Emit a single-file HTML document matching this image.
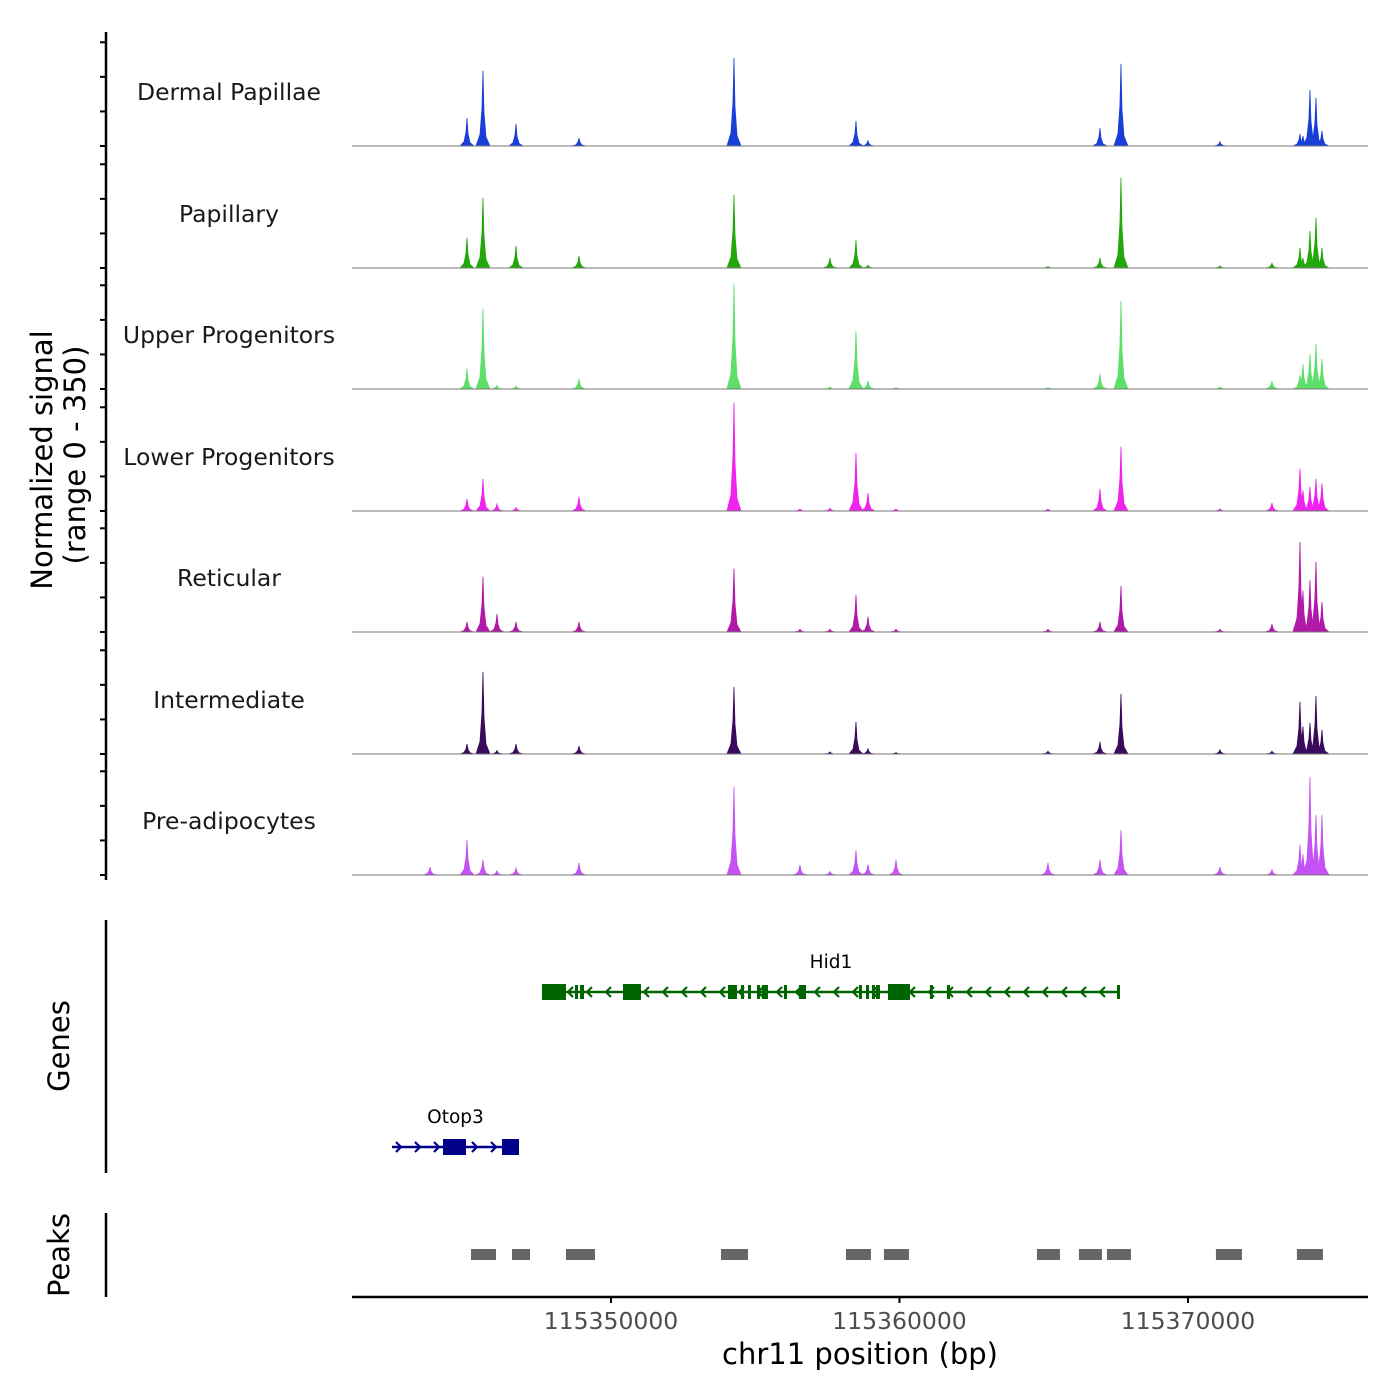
<!DOCTYPE html>
<html><head><meta charset="utf-8"><style>
html,body{margin:0;padding:0;background:#fff;}
svg{display:block;font-family:"DejaVu Sans","Liberation Sans",sans-serif;}
</style></head><body>
<svg id="chart" width="1400" height="1400" viewBox="0 0 1400 1400" xmlns="http://www.w3.org/2000/svg">
<rect width="1400" height="1400" fill="#fff"/>
<g id="tracks"></g>
<g id="genes"></g>
<g id="peaks"></g>
<g id="axes"></g>
<text transform="translate(52,460) rotate(-90)" text-anchor="middle" font-size="29" fill="#000">Normalized signal</text>
<text transform="translate(85,455) rotate(-90)" text-anchor="middle" font-size="29" fill="#000">(range 0 - 350)</text>
<text transform="translate(69,1046) rotate(-90)" text-anchor="middle" font-size="29" fill="#000">Genes</text>
<text transform="translate(69,1255) rotate(-90)" text-anchor="middle" font-size="29" fill="#000">Peaks</text>
<text x="860" y="1364" text-anchor="middle" font-size="29" fill="#000">chr11 position (bp)</text>
</svg>
<script>
// ---- data ----
const trackNames = ["Dermal Papillae","Papillary","Upper Progenitors","Lower Progenitors","Reticular","Intermediate","Pre-adipocytes"];
const trackColors = ["#1a3fd8","#22a80a","#5ddf6a","#ef22ee","#b11aa8","#3a0a5c","#c552f5"];
const peakPositions = [115343727,115345009,115345563,115346048,115346707,115348891,115354263,115356551,115357591,115358492,115358908,115359879,115365147,115366949,115367677,115371108,115372911,115373881,115373985,115374228,115374436,115374644];
const signalDermal   = [0,81,218,0,64,23,255,0,0,72,15,0,0,52,238,12,0,35,29,162,139,44];
const signalPapillary= [0,87,203,0,64,35,212,0,29,81,8,0,4,29,261,6,14,58,29,107,145,58];
const signalUpper    = [0,58,232,10,8,29,305,0,6,168,23,4,4,44,255,6,23,40,72,101,130,87];
const signalLower    = [0,35,93,20,10,41,313,6,8,168,52,6,6,64,186,6,23,122,60,70,93,80];
const signalReticular= [0,29,160,52,29,29,183,8,8,107,44,8,8,29,133,8,23,261,120,150,203,87];
const signalInter    = [0,29,238,10,29,23,194,0,6,93,15,4,8,35,174,12,8,151,80,90,168,70];
const signalPreadip  = [23,101,44,12,20,35,255,29,10,72,30,44,35,44,130,23,15,87,60,284,174,174];
const allSignals = [signalDermal,signalPapillary,signalUpper,signalLower,signalReticular,signalInter,signalPreadip];
const xTicks = [115350000,115360000,115370000];
const xTickLabels = ["115350000","115360000","115370000"];
const yTicks = [0,100,200,300];
const hid1Start = 115347608, hid1End = 115367642;
const hid1Exons = [[115347608,115348440],[115348752,115348856],[115348926,115349064],[115350416,115351040],[115354055,115354367],[115354506,115354575],[115354748,115354818],[115355060,115355130],[115355234,115355442],[115355997,115356066],[115356516,115356759],[115358596,115358666],[115358839,115358908],[115359047,115359116],[115359186,115359324],[115359601,115360364],[115361057,115361126],[115361646,115361716],[115367539,115367642]];
const otop3Start = 115342409, otop3End = 115346811;
const otop3Exons = [[115344177,115344974],[115346222,115346811]];
const peakRegions = [[115345148,115346014],[115346569,115347193],[115348440,115349446],[115353813,115354749],[115358145,115359012],[115359462,115360329],[115364765,115365562],[115366221,115367018],[115367191,115368023],[115370969,115371870],[115373776,115374678]];
// ---- scales ----
const X0=352,X1=1368,D0=115341023,D1=115376240;
const xs = v => X0+(v-D0)/(D1-D0)*(X1-X0);
const baselines=[146,268,389,511,632,754,875];
const TH=121;
const ys = (b,v) => b - v/350*TH;
const NS="http://www.w3.org/2000/svg";
function mk(tag,attrs,parent){const e=document.createElementNS(NS,tag);for(const k in attrs)e.setAttribute(k,attrs[k]);parent.appendChild(e);return e;}
const tracks=document.getElementById('tracks');
allSignals.forEach((sig,t)=>{
  const b=baselines[t];
  const g=mk('g',{},tracks);
  
  
  const lbl=mk('text',{x:229,y:b-46,'text-anchor':'middle','font-size':23.5,fill:'#1a1a1a'},g);
  lbl.textContent=trackNames[t];
  
  
  peakPositions.forEach((p,i)=>{
    const v=sig[i]; if(v<=0) return;
    const x=xs(p);
    const d=`M${x-7},${b} L${x-3},${ys(b,v*0.15)} L${x-1},${ys(b,v*0.5)} L${x},${ys(b,v)} L${x+1},${ys(b,v*0.45)} L${x+3},${ys(b,v*0.12)} L${x+7},${b} Z`;
    const area=mk('path',{d:d,fill:trackColors[t],stroke:trackColors[t],'stroke-width':0.8},g);
    
    
  });
  const bl=mk('line',{x1:X0,x2:X1,y1:b,y2:b,stroke:'#777','stroke-width':1},g);
  
  
});
const axes=document.getElementById('axes');
const ya=mk('line',{x1:106,x2:106,y1:32,y2:880,stroke:'#000','stroke-width':2.5},axes);


baselines.forEach(b=>{yTicks.forEach(v=>{const tk=mk('line',{x1:100,x2:106,y1:ys(b,v),y2:ys(b,v),stroke:'#000','stroke-width':2},axes);
  
  });});
const ga=mk('line',{x1:106,x2:106,y1:920,y2:1173,stroke:'#000','stroke-width':2.5},axes);


const pa=mk('line',{x1:106,x2:106,y1:1213,y2:1297,stroke:'#000','stroke-width':2.5},axes);


const xa=mk('line',{x1:X0,x2:X1,y1:1297,y2:1297,stroke:'#000','stroke-width':2.5},axes);


xTicks.forEach((v,i)=>{const tk=mk('line',{x1:xs(v),x2:xs(v),y1:1297,y2:1303,stroke:'#000','stroke-width':2},axes);
  
  
  const tl=mk('text',{x:xs(v),y:1329,'text-anchor':'middle','font-size':23.5,fill:'#4d4d4d'},axes);
  tl.textContent=xTickLabels[i];
  
  });
// genes
const genes=document.getElementById('genes');
function drawGene(name,s,e,exons,y,color,dir){
  const g=mk('g',{},genes);
  
  
  const ln=mk('line',{x1:xs(s),x2:xs(e),y1:y,y2:y,stroke:color,'stroke-width':2.5},g);
  
  
  for(let x=xs(s)+8;x<xs(e)-4;x+=19){const a=mk('path',{d:dir<0?`M${x+4},${y-5} L${x-1},${y} L${x+4},${y+5}`:`M${x-4},${y-5} L${x+1},${y} L${x-4},${y+5}`,fill:'none',stroke:color,'stroke-width':2.2},g);
    
    }
  exons.forEach(([a,b])=>{const w=Math.max(3,xs(b)-xs(a));const big=w>10;const r=mk('rect',{x:xs(a),y:y-(big?8:7),width:w,height:big?16:14,fill:color},g);
    
    });
  const t=mk('text',{x:(xs(s)+xs(e))/2,y:y-24,'text-anchor':'middle','font-size':18.5,fill:'#000'},g);
  t.textContent=name;
  
  
  return t;
}
drawGene('Hid1',hid1Start,hid1End,hid1Exons,992,'#006400',-1);
drawGene('Otop3',otop3Start,otop3End,otop3Exons,1147,'#00008b',1);
// peaks
const peaks=document.getElementById('peaks');
peakRegions.forEach(([a,b])=>{const r=mk('rect',{x:xs(a),y:1249,width:xs(b)-xs(a),height:11,fill:'#666'},peaks);
  
  });
</script>
</body></html>
